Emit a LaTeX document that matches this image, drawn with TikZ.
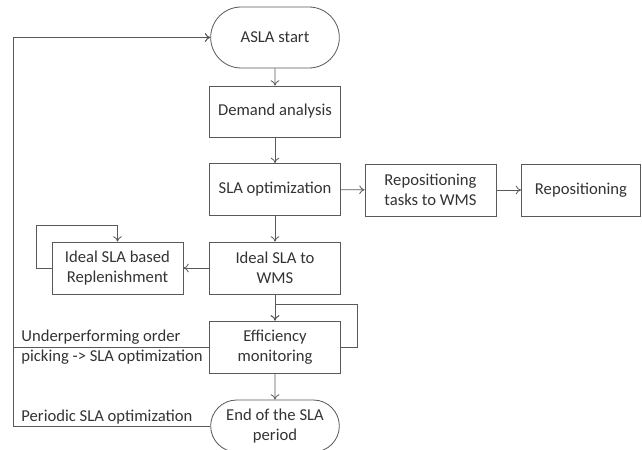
\documentclass[tikz,border=0pt]{standalone}
\usepackage{fontspec}
\setmainfont{Carlito}
\usetikzlibrary{arrows.meta,shapes.misc}

\begin{document}
\begin{tikzpicture}[x=0.3mm, y=-0.3mm,
  color=black!65, text=black!80, line width=0.7pt,
  font=\fontsize{14.2}{17.5}\selectfont,
  >={To[length=1.6mm,width=2.6mm]},
  box/.style={draw, rectangle, align=center, minimum width=39.3mm, minimum height=15.6mm, inner sep=1pt},
  terminal/.style={box, rounded rectangle},
  note/.style={align=left, inner sep=0pt}]

\useasboundingbox (0,0) rectangle (642,450);
\clip (0,0) rectangle (642,450);

%\draw[help lines] (0,0) grid[step=50] (642,450);

% main column
\node[terminal, minimum height=18.3mm] (start) at (275,37.5) {ASLA start};
\node[box, minimum height=15.3mm] (demand) at (275,111.5) {Demand analysis};
\node[box] (slaopt) at (275,189.5) {SLA optimization};
\node[box] (ideal) at (275,268) {Ideal SLA to\\WMS};
\node[box] (effmon) at (275,347) {Efficiency\\monitoring};
\node[terminal] (endp) at (275,426) {End of the SLA\\period};

% side boxes
\node[box] (reptasks) at (430.5,190) {Repositioning\\tasks to WMS};
\node[box, minimum width=35.7mm] (repos) at (581,190) {Repositioning};
\node[box] (replen) at (117.5,268) {Ideal SLA based\\Replenishment};

\draw[->] (start) -- (demand);
\draw[->] (demand) -- (slaopt);
\draw[->] (slaopt) -- (reptasks);
\draw[->] (reptasks) -- (repos);
\draw[->] (slaopt) -- (ideal);
\draw[->] (ideal) -- (replen);
\draw[->] (ideal) -- (effmon);
\draw[->] (effmon) -- (endp);

% loops
\draw[->] (replen.west) -- ++(-15,0) -- ++(0,-43) -| (replen.north);
\draw[->] (effmon.east) -- ++(16,0) -- ++(0,-43) -| (effmon.north);

% feedback to the start
\coordinate (rail) at (13,0);
\draw[->] (effmon.west) -- (effmon.west -| rail) |- (start.west);
\draw[->] (endp.west) -- (endp.west -| rail) |- (start.west);

\node[note, anchor=west] (under) at (21,347) {Underperforming order\\picking -> SLA optimization};
\node[note, anchor=base west] (period) at (21,421) {Periodic SLA optimization};

\end{tikzpicture}
\end{document}
